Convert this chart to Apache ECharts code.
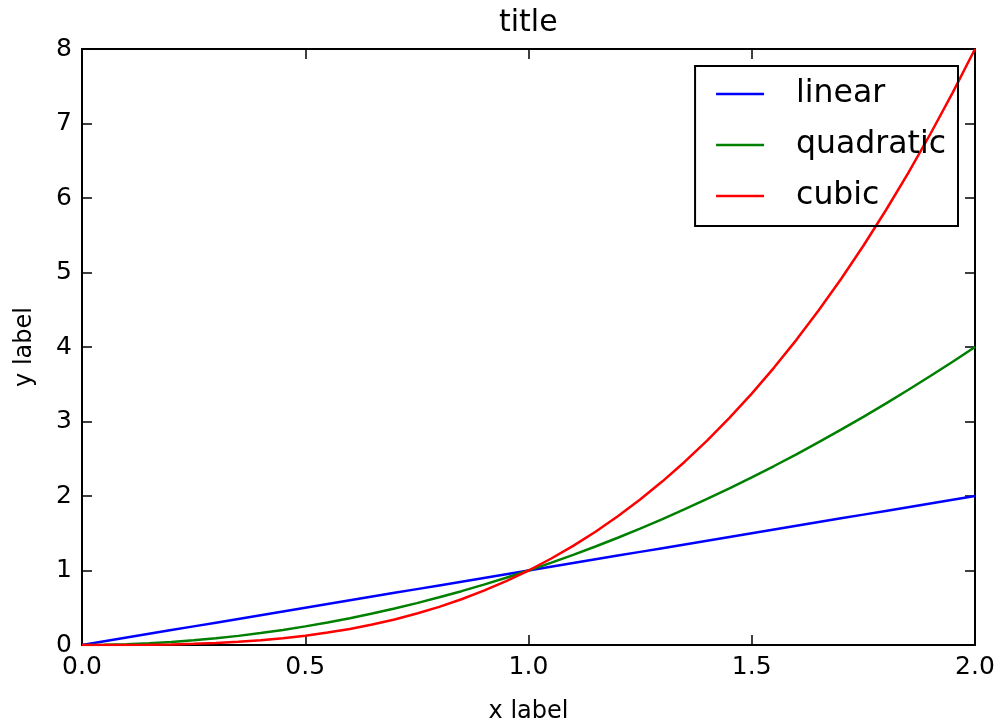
<!DOCTYPE html>
<html>
<head>
<meta charset="utf-8">
<script src="https://cdn.jsdelivr.net/npm/echarts@6/dist/echarts.min.js"></script>
<style>
  html, body { margin: 0; padding: 0; background: #fff; }
  #chart { width: 999px; height: 723px; }
</style>
</head>
<body>
<div id="chart"></div>
<script>
// values
var xValues = [0.0, 0.05, 0.1, 0.15, 0.2, 0.25, 0.3, 0.35, 0.4, 0.45, 0.5,
               0.55, 0.6, 0.65, 0.7, 0.75, 0.8, 0.85, 0.9, 0.95, 1.0,
               1.05, 1.1, 1.15, 1.2, 1.25, 1.3, 1.35, 1.4, 1.45, 1.5,
               1.55, 1.6, 1.65, 1.7, 1.75, 1.8, 1.85, 1.9, 1.95, 2.0];
var linearValues = [0.0, 0.05, 0.1, 0.15, 0.2, 0.25, 0.3, 0.35, 0.4, 0.45, 0.5,
                    0.55, 0.6, 0.65, 0.7, 0.75, 0.8, 0.85, 0.9, 0.95, 1.0,
                    1.05, 1.1, 1.15, 1.2, 1.25, 1.3, 1.35, 1.4, 1.45, 1.5,
                    1.55, 1.6, 1.65, 1.7, 1.75, 1.8, 1.85, 1.9, 1.95, 2.0];
var quadraticValues = [0.0, 0.0025, 0.01, 0.0225, 0.04, 0.0625, 0.09, 0.1225, 0.16, 0.2025, 0.25,
                       0.3025, 0.36, 0.4225, 0.49, 0.5625, 0.64, 0.7225, 0.81, 0.9025, 1.0,
                       1.1025, 1.21, 1.3225, 1.44, 1.5625, 1.69, 1.8225, 1.96, 2.1025, 2.25,
                       2.4025, 2.56, 2.7225, 2.89, 3.0625, 3.24, 3.4225, 3.61, 3.8025, 4.0];
var cubicValues = [0.0, 0.0001, 0.001, 0.0034, 0.008, 0.0156, 0.027, 0.0429, 0.064, 0.0911, 0.125,
                   0.1664, 0.216, 0.2746, 0.343, 0.4219, 0.512, 0.6141, 0.729, 0.8574, 1.0,
                   1.1576, 1.331, 1.5209, 1.728, 1.9531, 2.197, 2.4604, 2.744, 3.0486, 3.375,
                   3.7239, 4.096, 4.4921, 4.913, 5.3594, 5.832, 6.3316, 6.859, 7.4149, 8.0];
var seriesNames = ['linear', 'quadratic', 'cubic'];
var colors = ['#0000ff', '#008000', '#ff0000'];

var font = '"DejaVu Sans", sans-serif';

function pairs(ys) {
  return xValues.map(function (x, i) { return [x, ys[i]]; });
}

var chart = echarts.init(document.getElementById('chart'));

// frame + inward ticks on all four sides
var frameLine = { show: true, onZero: false, lineStyle: { color: '#000', width: 2 } };
var tick = { show: true, inside: true, length: 10, lineStyle: { color: '#000', width: 1.5 } };

var option = {
  animation: false,
  color: colors,
  title: {
    text: 'title',
    left: 499,
    top: 8,
    padding: 0,
    textStyle: { fontFamily: font, fontSize: 30, fontWeight: 'normal', color: '#000' }
  },
  grid: { left: 82, right: 24, top: 49, bottom: 78, containLabel: false, outerBoundsMode: 'none' },
  legend: {
    data: seriesNames,
    orient: 'vertical',
    right: 41,
    top: 66,
    padding: [11, 12, 13, 21],
    icon: 'rect',
    itemWidth: 48,
    itemHeight: 2.5,
    itemGap: 17,
    borderColor: '#000',
    borderWidth: 2,
    borderRadius: 0,
    textStyle: { fontFamily: font, fontSize: 31.5, color: '#000', lineHeight: 34, padding: [0, 0, 0, 27] }
  },
  xAxis: [{
    type: 'value',
    min: 0, max: 2, interval: 0.5,
    name: 'x label',
    nameLocation: 'middle',
    nameGap: 55,
    nameTextStyle: { fontFamily: font, fontSize: 24, color: '#000' },
    axisLine: frameLine,
    axisTick: tick,
    splitLine: { show: false },
    axisLabel: {
      margin: 10,
      fontFamily: font, fontSize: 25, color: '#000',
      formatter: function (v) { return v.toFixed(1); }
    }
  }, {
    type: 'value',
    position: 'top',
    min: 0, max: 2, interval: 0.5,
    axisLine: frameLine,
    axisTick: tick,
    splitLine: { show: false },
    axisLabel: { show: false }
  }],
  yAxis: [{
    type: 'value',
    min: 0, max: 8, interval: 1,
    name: 'y label',
    nameLocation: 'middle',
    nameGap: 45,
    nameRotate: 90,
    nameTextStyle: { fontFamily: font, fontSize: 24, color: '#000' },
    axisLine: frameLine,
    axisTick: tick,
    splitLine: { show: false },
    axisLabel: { margin: 10, fontFamily: font, fontSize: 25, color: '#000' }
  }, {
    type: 'value',
    position: 'right',
    min: 0, max: 8, interval: 1,
    axisLine: frameLine,
    axisTick: tick,
    splitLine: { show: false },
    axisLabel: { show: false }
  }],
  series: [
    { name: 'linear', type: 'line', data: pairs(linearValues) },
    { name: 'quadratic', type: 'line', data: pairs(quadraticValues) },
    { name: 'cubic', type: 'line', data: pairs(cubicValues) }
  ].map(function (s, i) {
    s.showSymbol = false;
    s.symbol = 'none';
    s.smooth = false;
    s.lineStyle = { width: 2.5, color: colors[i] };
    s.itemStyle = { color: colors[i] };
    return s;
  })
};

chart.setOption(option);
</script>
</body>
</html>
